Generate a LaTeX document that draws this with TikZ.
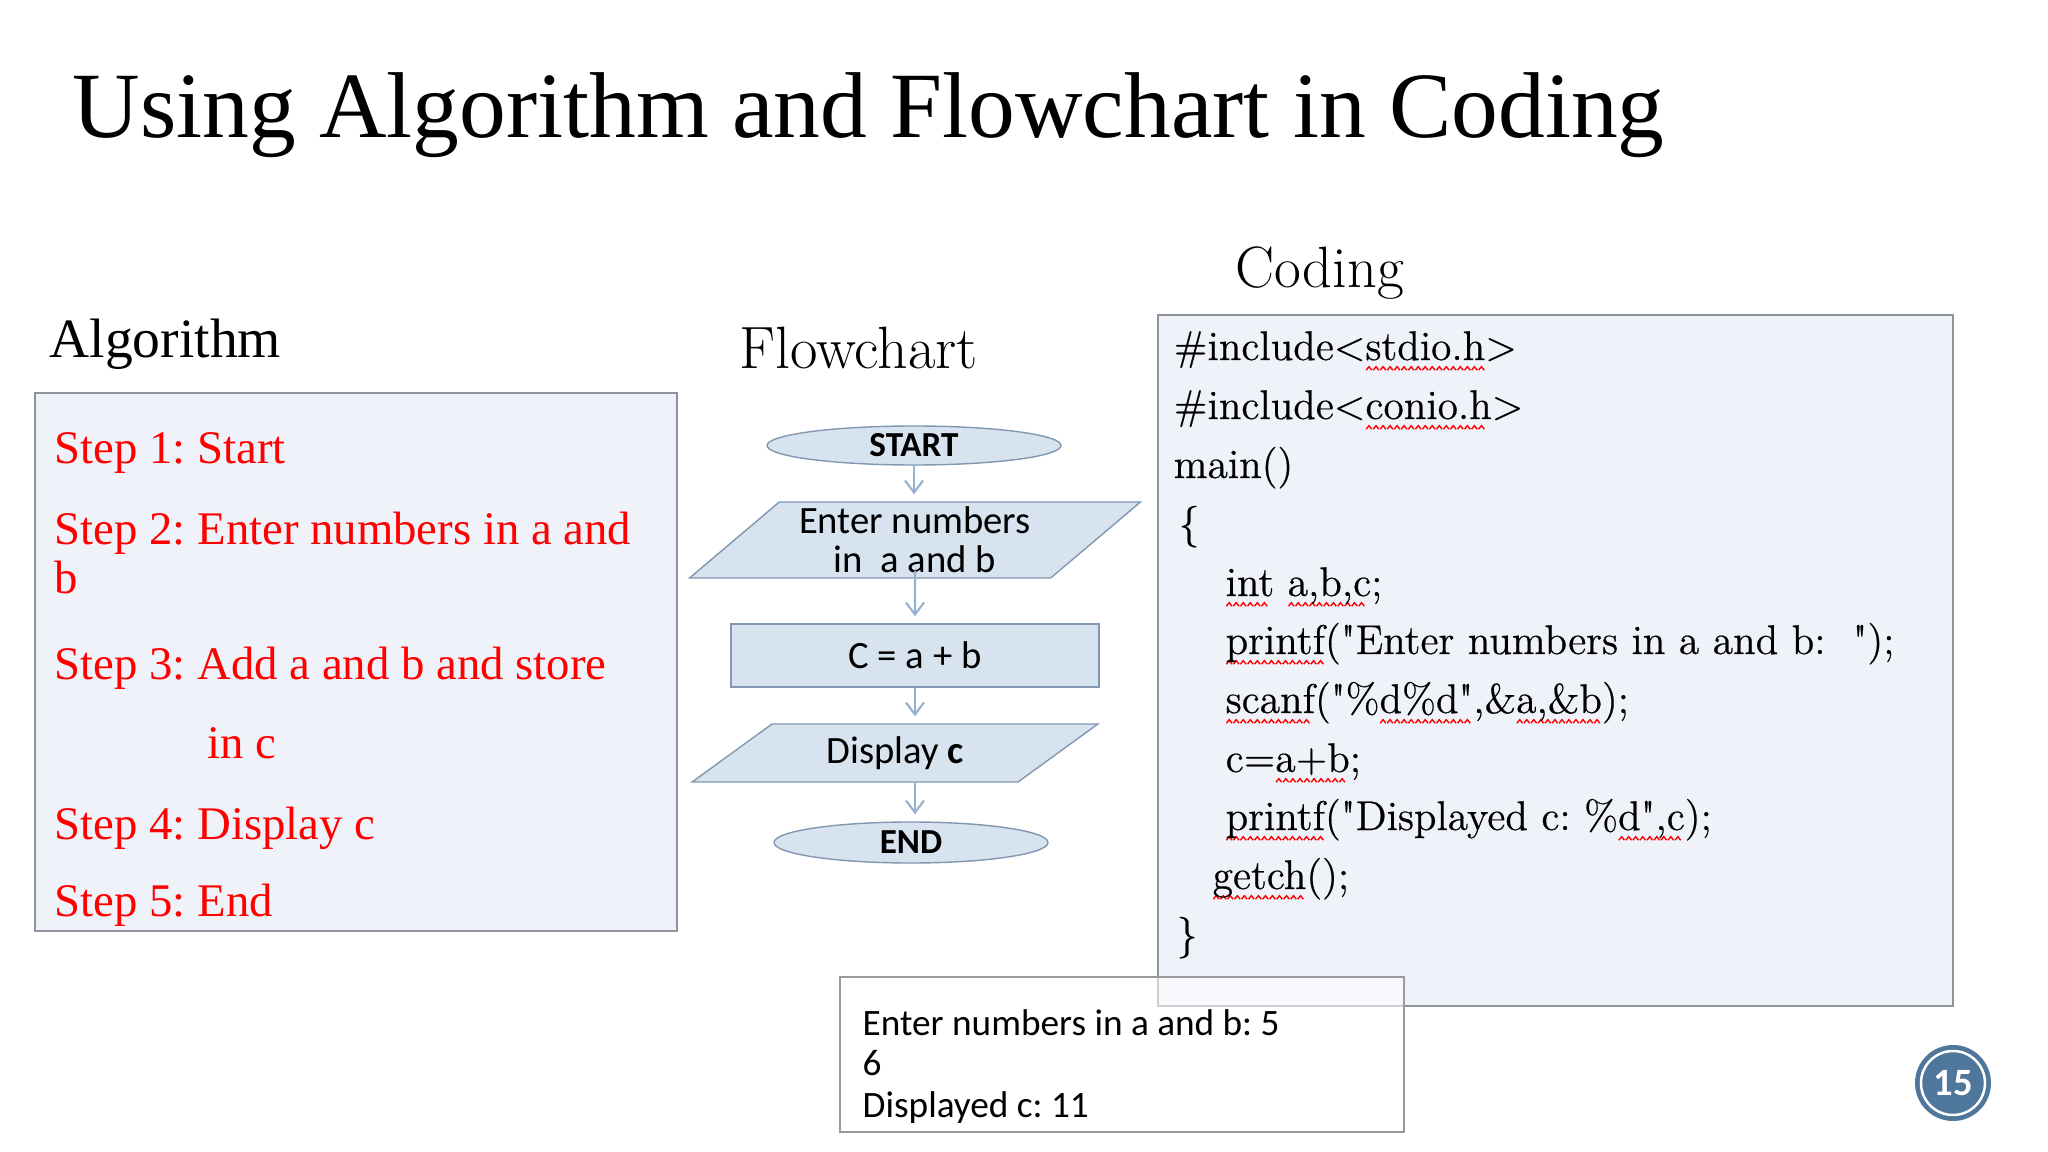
\documentclass[tikz,border=0pt]{standalone}
\usepackage{fontspec}
\setmainfont{Liberation Serif}
\newfontfamily\lmfont{Latin Modern Roman}
\newfontfamily\codefont[FakeBold=0.5]{Latin Modern Roman}
\newfontfamily\calfont{Carlito}
\usepackage{xcolor}
\usepackage{tikz}
\usetikzlibrary{arrows.meta,positioning,shapes.geometric,calc}

\definecolor{panelfill}{HTML}{F0F2F9}
\definecolor{panelline}{HTML}{8E939C}
\definecolor{flowfill}{HTML}{D7E3EF}
\definecolor{flowline}{HTML}{8198B0}
\definecolor{arrowblue}{HTML}{95B1D1}
\definecolor{pageblue}{HTML}{4F779B}
\definecolor{outline}{HTML}{9A9A9A}

% red spell-check wave under a word
\newsavebox\wavecell
\newsavebox\sqbox
\newcommand\sqg[1]{\sbox\sqbox{#1}\rlap{\raisebox{-3.1pt}{\leaders\copy\wavecell\hskip\wd\sqbox}}\usebox\sqbox}

\frenchspacing
\begin{document}
\sbox\wavecell{\begin{pgfpicture}
  \pgfpathmoveto{\pgfpoint{0pt}{0pt}}
  \pgfpathlineto{\pgfpoint{0.8pt}{1pt}}
  \pgfpathlineto{\pgfpoint{1.6pt}{0pt}}
  \pgfsetlinewidth{0.4pt}
  \pgfsetstrokecolor{red}
  \pgfusepath{stroke}
\end{pgfpicture}}%
\begin{tikzpicture}[
  panel/.style={draw=panelline,line width=0.6pt,fill=panelfill,anchor=north west,inner sep=0},
  outbox/.style={draw=outline,line width=0.6pt,fill=white,fill opacity=0.55,anchor=north west,inner sep=0},
  lbl/.style={anchor=base west,inner sep=0},
  steptxt/.style={anchor=base west,inner sep=0,text=red,font=\fontsize{13.3}{16}\selectfont},
  codetxt/.style={anchor=base west,inner sep=0,font=\codefont\fontsize{11.8}{14}\selectfont},
  termnode/.style={ellipse,draw=flowline,fill=flowfill,inner sep=0,font=\calfont\bfseries\fontsize{10}{12}\selectfont},
  ionode/.style={trapezium,trapezium stretches=true,draw=flowline,fill=flowfill,inner sep=0,align=center,font=\calfont\fontsize{11}{11.1}\selectfont},
  procnode/.style={rectangle,draw=flowline,fill=flowfill,inner sep=0,font=\calfont\fontsize{11}{13}\selectfont},
  arr/.style={-{Straight Barb[length=1.2mm,width=1.8mm]},draw=arrowblue,line width=0.6pt,shorten >=0.07cm},
  outtxt/.style={anchor=base west,inner sep=0,font=\calfont\fontsize{10.6}{12}\selectfont}
]
\fill[white] (0,0) rectangle (20.48,-11.52);
\useasboundingbox (0,0) rectangle (20.48,-11.52);

\node[lbl,font=\fontsize{26.6}{32}\selectfont] (title) at (0.72,-1.38) {Using Algorithm and Flowchart in Coding};

% algorithm
\node[lbl,font=\fontsize{15.8}{19}\selectfont] (algolbl) at (0.49,-3.58) {Algorithm};
\node[panel,minimum width=6.42cm,minimum height=5.38cm] (algobox) at (0.34,-3.92) {};
\node[steptxt] (s1) at (0.54,-4.64) {Step 1: Start};
\node[steptxt] (s2) at (0.54,-5.44) {Step 2: Enter numbers in a and};
\node[steptxt] (s3) at (0.54,-5.94) {b};
\node[steptxt] (s4) at (0.54,-6.80) {Step 3: Add a and b and store};
\node[steptxt] (s5) at (2.07,-7.59) {in c};
\node[steptxt] (s6) at (0.54,-8.39) {Step 4: Display c};
\node[steptxt] (s7) at (0.54,-9.17) {Step 5: End};

% flowchart
\node[lbl,font=\lmfont\fontsize{17}{20}\selectfont] (flowlbl) at (7.39,-3.69) {Flowchart};
\node[termnode,minimum width=2.94cm,minimum height=0.39cm] (start) at (9.14,-4.455) {START};
\node[ionode,trapezium left angle=40.8,trapezium right angle=139.2,minimum width=4.51cm,minimum height=0.76cm] (inp) at (9.15,-5.40) {Enter numbers\\in~~a and b};
\node[procnode,minimum width=3.68cm,minimum height=0.63cm] (proc) at (9.15,-6.555) {C = a + b};
\node[ionode,trapezium left angle=36.6,trapezium right angle=143.4,minimum width=4.07cm,minimum height=0.58cm] (disp) at (8.95,-7.53) {Display \textbf{c}};
\node[termnode,minimum width=2.74cm,minimum height=0.41cm] (endn) at (9.11,-8.425) {END};
\draw[arr] (start.south) -- (start.south |- inp.north);
\draw[arr] ([yshift=0.08cm]inp.south) -- (proc.north);
\draw[arr] (proc.south) -- (proc.south |- disp.north);
\draw[arr] (proc.south |- disp.south) -- (proc.south |- endn.north);

% coding
\node[lbl,font=\lmfont\fontsize{16.6}{20}\selectfont] (codelbl) at (12.35,-2.88) {Coding};
\node[panel,minimum width=7.95cm,minimum height=6.91cm] (codebox) at (11.57,-3.14) {};
\node[codetxt] (c1) at (11.73,-3.60) {\#include<\sqg{stdio.h}>};
\node[codetxt] (c2) at (11.73,-4.19) {\#include<\sqg{conio.h}>};
\node[codetxt] (c3) at (11.73,-4.78) {main()};
\node[codetxt] (c4) at (11.78,-5.37) {\{};
\node[codetxt] (c5) at (12.25,-5.96) {\sqg{int} \sqg{a,b,c};};
\node[codetxt] (c6) at (12.25,-6.54) {\sqg{printf}("Enter numbers in a and b:~~");};
\node[codetxt] (c7) at (12.25,-7.13) {\sqg{scanf}("\%\sqg{d\%d"},\&\sqg{a,\&b});};
\node[codetxt] (c8) at (12.25,-7.72) {c=\sqg{a+b};};
\node[codetxt] (c9) at (12.25,-8.30) {\sqg{printf}("Displayed c: \%\sqg{d",c});};
\node[codetxt] (c10) at (12.12,-8.89) {\sqg{getch}();};
\node[codetxt] (c11) at (11.76,-9.48) {\}};

% program output
\node[outbox,minimum width=5.64cm,minimum height=1.55cm] (outbox) at (8.39,-9.76) {};
\node[outtxt] (o1) at (8.62,-10.35) {Enter numbers in a and b: 5};
\node[outtxt] (o2) at (8.62,-10.75) {6};
\node[outtxt] (o3) at (8.62,-11.17) {Displayed c: 11};

% slide number
\fill[pageblue] (19.53,-10.83) circle (0.38);
\node[circle,draw=white,line width=0.7pt,fill=pageblue,minimum size=0.64cm,inner sep=0,text=white,font=\calfont\bfseries\fontsize{11}{13}\selectfont] (pagenum) at (19.53,-10.83) {15};
\end{tikzpicture}
\end{document}
